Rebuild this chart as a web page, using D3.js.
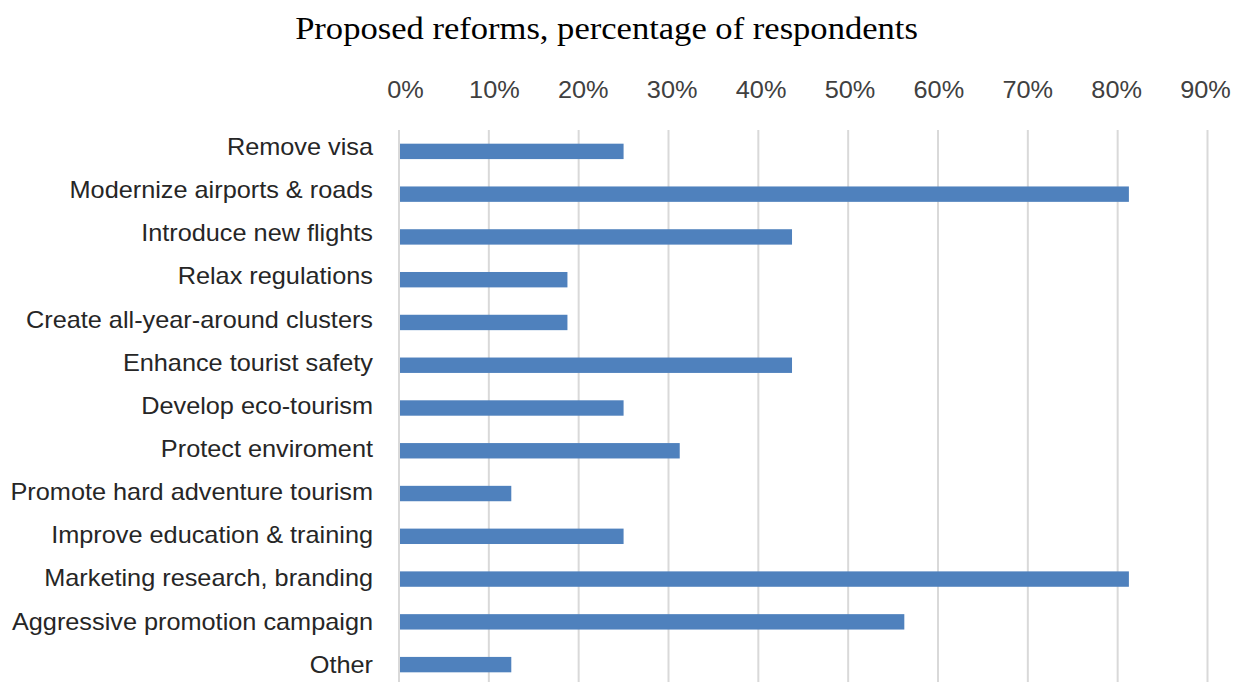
<!DOCTYPE html>
<html><head><meta charset="utf-8">
<script src="https://cdn.jsdelivr.net/npm/d3@7"></script>
<style>body{margin:0;background:#fff;}svg{display:block;}</style>
</head><body>
<svg id="chart" width="1235" height="682"></svg>
<script>
const categories = ["Remove visa","Modernize airports & roads","Introduce new flights","Relax regulations","Create all-year-around clusters","Enhance tourist safety","Develop eco-tourism","Protect enviroment","Promote hard adventure tourism","Improve education & training","Marketing research, branding","Aggressive promotion campaign","Other"];
const values = [0.25,0.8125,0.4375,0.1875,0.1875,0.4375,0.25,0.3125,0.125,0.25,0.8125,0.5625,0.125];
const tickValues = [0,0.1,0.2,0.3,0.4,0.5,0.6,0.7,0.8,0.9];
const title = "Proposed reforms, percentage of respondents";

(function(){
const svg = d3.select("#chart");
const mLeft = 399, mRight = 1207.5, mTop = 130, mBottom = 686;
const sx = 1.1;
const x = d3.scaleLinear().domain([0,0.9]).range([mLeft,mRight]);
const xLab = d3.scaleLinear().domain([0,0.9]).range([405,1205]);
const y = d3.scaleBand().domain(categories).range([mTop,mBottom]).paddingInner(0.64).paddingOuter(0.32);
const yLab = d3.scaleBand().domain(categories).range([126,687]).paddingInner(0.64).paddingOuter(0.32);

svg.append("g").selectAll("line").data(tickValues).join("line")
  .attr("x1",d=>x(d)).attr("x2",d=>x(d)).attr("y1",mTop).attr("y2",690)
  .attr("stroke","#d9d9d9").attr("stroke-width",2);

svg.append("g").selectAll("rect").data(values).join("rect")
  .attr("x",x(0)+1).attr("y",(d,i)=>y(categories[i]))
  .attr("width",d=>x(d)-x(0)-1).attr("height",y.bandwidth())
  .attr("fill","#4f81bd");

const xAxis = d3.axisTop(xLab).tickValues(tickValues).tickFormat(d3.format(".0%")).tickSize(0).tickPadding(0);
const gx = svg.append("g").attr("transform","translate(0,98)").call(xAxis);
gx.select(".domain").remove();
gx.selectAll("text").attr("font-family","'Liberation Sans', Arial, sans-serif").attr("font-size","23px").attr("fill","#404040").attr("dy","0")
  .attr("transform",`scale(${sx},1)`);

const yAxis = d3.axisLeft(yLab).tickSize(0).tickPadding(0);
const gy = svg.append("g").attr("transform",`translate(${mLeft-26},0)`).call(yAxis);
gy.select(".domain").remove();
gy.selectAll("text").attr("font-family","'Liberation Sans', Arial, sans-serif").attr("font-size","23px").attr("fill","#262626")
  .attr("transform",`scale(${sx},1)`);

svg.append("text").attr("x",606.5/1.08).attr("y",39).attr("text-anchor","middle")
  .attr("transform","scale(1.08,1)")
  .attr("font-family","'Liberation Serif', 'DejaVu Serif', serif").attr("font-size","32px").attr("fill","#000")
  .text(title);
})();
</script>
</body></html>
